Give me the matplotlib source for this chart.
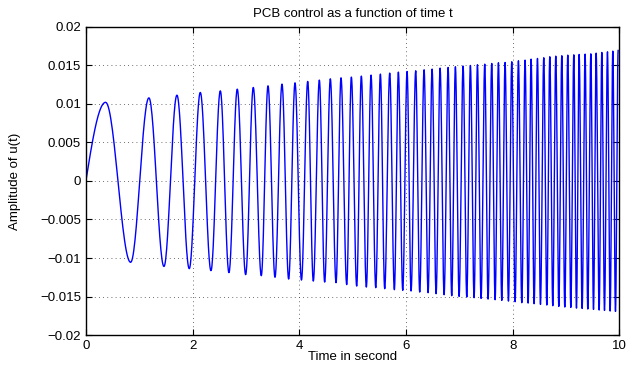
import numpy as np
import matplotlib
matplotlib.use('Agg')
import matplotlib.pyplot as plt
from matplotlib.ticker import FuncFormatter

# extrema of u(t) (alternating max / min)
ext_t = [0.369, 0.838, 1.181, 1.463, 1.706, 1.937, 2.144, 2.344, 2.519, 2.681,
         2.837, 2.994, 3.137, 3.287, 3.413, 3.544, 3.675, 3.800, 3.919, 4.040,
         4.157, 4.262, 4.375, 4.475, 4.581, 4.688, 4.781, 4.888, 4.975, 5.075,
         5.162, 5.256, 5.344, 5.432, 5.519, 5.600, 5.694, 5.781, 5.856, 5.938,
         6.019, 6.094, 6.181, 6.256, 6.338, 6.413, 6.488, 6.563, 6.638, 6.713,
         6.788, 6.856, 6.925, 6.994, 7.069, 7.138, 7.206, 7.275, 7.338, 7.406,
         7.475, 7.537, 7.606, 7.669, 7.731, 7.794, 7.856, 7.919, 7.981, 8.044,
         8.106, 8.169, 8.231, 8.288, 8.344, 8.400, 8.463, 8.519, 8.581, 8.638,
         8.694, 8.750, 8.806, 8.863, 8.919, 8.975, 9.031, 9.088, 9.144, 9.194,
         9.244, 9.300, 9.356, 9.406, 9.463, 9.513, 9.563, 9.619, 9.669, 9.719,
         9.775, 9.825, 9.875, 9.925, 9.975]
ext_v = [0.01020, -0.01056, 0.01078, -0.01110, 0.01113, -0.01138, 0.01148, -0.01164,
         0.01169, -0.01190, 0.01191, -0.01216, 0.01213, -0.01229, 0.01234, -0.01250,
         0.01256, -0.01273, 0.01273, -0.01286, 0.01291, -0.01299, 0.01308, -0.01312,
         0.01325, -0.01320, 0.01338, -0.01345, 0.01347, -0.01364, 0.01360, -0.01377,
         0.01373, -0.01385, 0.01386, -0.01398, 0.01399, -0.01411, 0.01412, -0.01419,
         0.01420, -0.01428, 0.01429, -0.01442, 0.01442, -0.01450, 0.01451, -0.01463,
         0.01464, -0.01476, 0.01472, -0.01489, 0.01481, -0.01498, 0.01490, -0.01506,
         0.01498, -0.01515, 0.01507, -0.01524, 0.01515, -0.01533, 0.01524, -0.01541,
         0.01533, -0.01550, 0.01537, -0.01559, 0.01546, -0.01567, 0.01559, -0.01580,
         0.01567, -0.01585, 0.01580, -0.01593, 0.01589, -0.01602, 0.01598, -0.01610,
         0.01611, -0.01619, 0.01619, -0.01628, 0.01624, -0.01636, 0.01632, -0.01641,
         0.01636, -0.01650, 0.01641, -0.01654, 0.01645, -0.01662, 0.01649, -0.01667,
         0.01658, -0.01675, 0.01667, -0.01680, 0.01675, -0.01688, 0.01684, -0.01693,
         0.01693]

x_ticks = [0, 2, 4, 6, 8, 10]
y_ticks = [-0.02, -0.015, -0.01, -0.005, 0, 0.005, 0.01, 0.015, 0.02]


def build_curve(et, ev):
    # quarter sine from the origin to the first peak, half cosines between extrema
    s = np.linspace(0, 1, 40)
    ts = [et[0] * s]
    vs = [ev[0] * np.sin(np.pi / 2 * s)]
    for i in range(len(et) - 1):
        s = np.linspace(0, 1, 30)[1:]
        mid = (ev[i] + ev[i + 1]) / 2
        half = (ev[i] - ev[i + 1]) / 2
        ts.append(et[i] + (et[i + 1] - et[i]) * s)
        vs.append(mid + half * np.cos(np.pi * s))
    return np.concatenate(ts), np.concatenate(vs)


plt.rcParams['font.family'] = ['Liberation Sans', 'DejaVu Sans']
fig = plt.figure(figsize=(6.27, 3.67), dpi=100)
ax = fig.add_axes([0.137, 0.087, 0.851, 0.840])

t, u = build_curve(ext_t, ext_v)
ax.plot(t, u, color='#0000ff', lw=1.0)

ax.set_xlim(0, 10)
ax.set_ylim(-0.02, 0.02)
ax.set_xticks(x_ticks)
ax.set_yticks(y_ticks)
ax.yaxis.set_major_formatter(FuncFormatter(lambda v, p: ('%g' % v).replace('-', '\u2212')))
ax.tick_params(direction='in', top=True, right=True, labelsize=9.5, length=4, width=0.8)
ax.grid(True, linestyle=(0, (1, 4)), color='#404040', linewidth=0.6)
for sp in ax.spines.values():
    sp.set_linewidth(1.0)

ax.set_title('PCB control as a function of time t', fontsize=9.5, pad=7)
ax.set_xlabel('Time in second', fontsize=9.5, labelpad=-1)
ax.set_ylabel('Amplitude of u(t)', fontsize=9.5, labelpad=14)

fig.savefig('out.png', dpi=100)
